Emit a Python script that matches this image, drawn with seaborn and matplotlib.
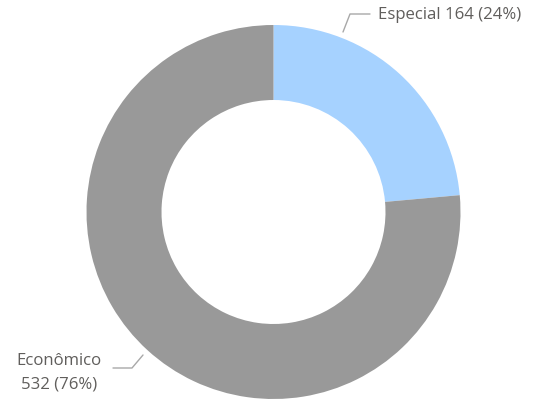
import matplotlib
matplotlib.use("Agg")
import matplotlib.pyplot as plt
import seaborn as sns

categories = ["Especial", "Econômico"]
values = [164, 532]
colors = ["#A6D2FF", "#999999"]

sns.set_theme(style="white")
plt.rcParams['font.family'] = ['Open Sans', 'DejaVu Sans']

total = sum(values)
pcts = [round(v / total * 100) for v in values]

fig = plt.figure(figsize=(5.33, 3.99), dpi=100)
ax = fig.add_axes([0, 0, 1, 1])

# donut, drawn clockwise from 12 o'clock
cx, cy, r = 273.5, 187, 187
ax.pie(values, colors=colors, startangle=90, counterclock=False,
       center=(cx, cy), radius=r, frame=True,
       wedgeprops=dict(width=75, linewidth=0))
ax.set_xlim(0, 533)
ax.set_ylim(0, 399)
ax.axis('off')

line_kw = dict(color="#A8A8A8", lw=1)
txt_color = "#605E5C"

# Especial label (top right)
ax.plot([343, 350, 370], [399 - 32, 399 - 14, 399 - 14], **line_kw)
ax.text(378, 399 - 15, f"{categories[0]} {values[0]} ({pcts[0]}%)",
        ha='left', va='center', fontsize=12.1, color=txt_color)

# Econômico label (bottom left)
ax.plot([113, 132, 143], [399 - 368, 399 - 368, 399 - 355], **line_kw)
ax.text(59, 399 - 373, f"{categories[1]}\n{values[1]} ({pcts[1]}%)",
        ha='center', va='center', fontsize=12.1, color=txt_color,
        linespacing=1.65)

fig.savefig("out.png", dpi=100, facecolor="white")
